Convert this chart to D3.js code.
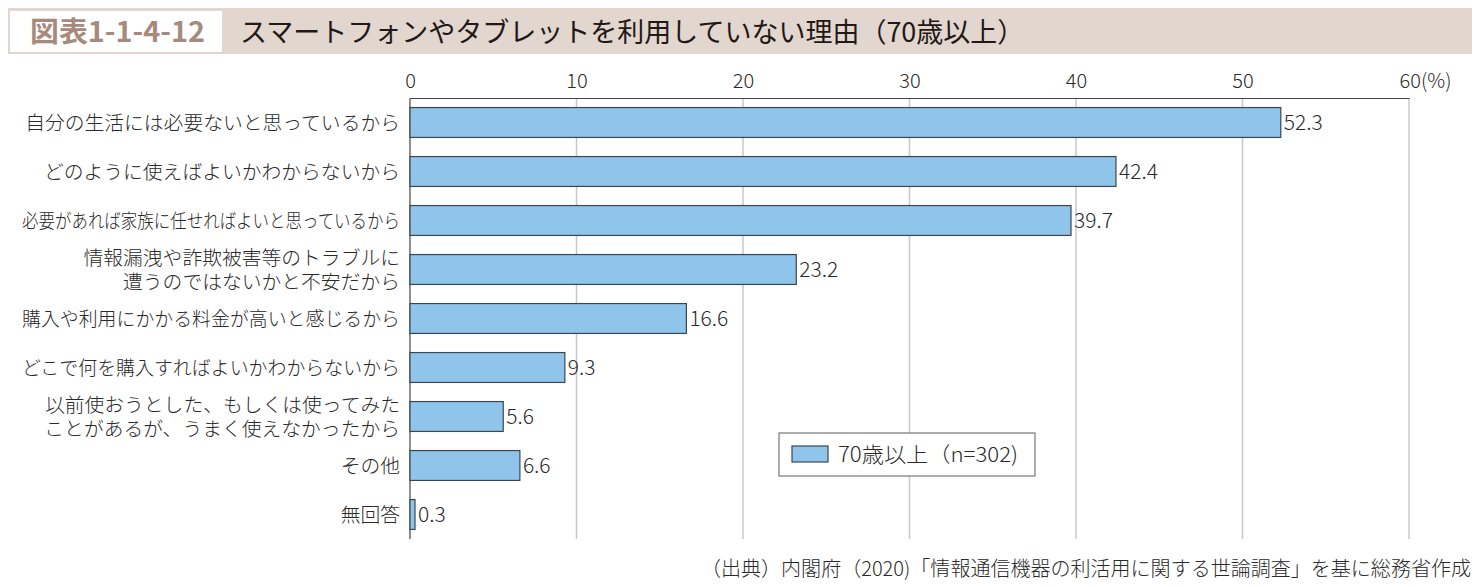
<!DOCTYPE html>
<html><head><meta charset="utf-8">
<script src="https://cdn.jsdelivr.net/npm/d3@7"></script>
<style>
body{margin:0;background:#fff;}
svg{display:block;font-family:"Noto Sans CJK JP","Noto Sans",sans-serif;}
</style></head><body>
<svg id="c" width="1482" height="587"></svg>
<script>
const categories = [
  ["自分の生活には必要ないと思っているから"],
  ["どのように使えばよいかわからないから"],
  ["必要があれば家族に任せればよいと思っているから"],
  ["情報漏洩や詐欺被害等のトラブルに","遭うのではないかと不安だから"],
  ["購入や利用にかかる料金が高いと感じるから"],
  ["どこで何を購入すればよいかわからないから"],
  ["以前使おうとした、もしくは使ってみた","ことがあるが、うまく使えなかったから"],
  ["その他"],
  ["無回答"]
];
const values = [52.3, 42.4, 39.7, 23.2, 16.6, 9.3, 5.6, 6.6, 0.3];
const tickValues = [0, 10, 20, 30, 40, 50, 60];
const seriesName = "70歳以上（n=302)";
const titleNo = "図表1-1-4-12";
const titleText = "スマートフォンやタブレットを利用していない理由（70歳以上）";
const sourceText = "（出典）内閣府（2020)「情報通信機器の利活用に関する世論調査」を基に総務省作成";

const svg = d3.select("#c");
const pLeft = 410, pRight = 1409, pTop = 98, pBottom = 539;
const x = d3.scaleLinear().domain([0, 60]).range([pLeft, pRight]);
const y = d3.scaleBand().domain(d3.range(categories.length)).range([pTop, pBottom]).paddingInner(0.39).paddingOuter(0.195);
const txt = "#2a2a2a";

function fit(sel, maxW, force) {
  sel.each(function() {
    const w = this.getComputedTextLength();
    if (w > maxW || force) d3.select(this).attr("textLength", maxW).attr("lengthAdjust", "spacingAndGlyphs");
  });
}

// title band
svg.append("rect").attr("x", 8).attr("y", 8).attr("width", 1464).attr("height", 46).attr("fill", "#e1d7ce");
svg.append("rect").attr("x", 10).attr("y", 11).attr("width", 212).attr("height", 41).attr("fill", "#fff");
const tn = svg.append("text").attr("x", 30).attr("y", 42)
  .attr("font-size", 28).attr("font-weight", 700).attr("fill", "#a68a7c").text(titleNo);
fit(tn, 175, true);
svg.append("text").attr("x", 240).attr("y", 42)
  .attr("font-size", 27).attr("font-weight", 400).attr("fill", "#231815").text(titleText);

// gridlines
svg.append("g").selectAll("line").data(tickValues.slice(1)).join("line")
  .attr("x1", d => x(d)).attr("x2", d => x(d)).attr("y1", pTop).attr("y2", pBottom)
  .attr("stroke", "#c8c8c8").attr("stroke-width", 1.5);

// top axis
const ax = d3.axisTop(x).tickValues(tickValues).tickSize(0).tickPadding(10)
  .tickFormat(d => d === 60 ? "60(%)" : d);
const g = svg.append("g").attr("transform", `translate(0,${pTop})`).call(ax);
g.select(".domain").attr("stroke", "#444").attr("stroke-width", 1.2);
g.selectAll("text").attr("font-size", 20).attr("font-weight", 300).attr("fill", txt)
  .attr("font-family", '"Noto Sans CJK JP",sans-serif');
g.selectAll(".tick").filter(d => d === 60).select("text").attr("dx", 16);

// left axis line
svg.append("line").attr("x1", pLeft).attr("x2", pLeft).attr("y1", pTop).attr("y2", pBottom)
  .attr("stroke", "#444").attr("stroke-width", 1.2);

// bars
svg.append("g").selectAll("rect").data(values).join("rect")
  .attr("x", x(0)).attr("y", (d, i) => y(i))
  .attr("width", d => x(d) - x(0)).attr("height", y.bandwidth())
  .attr("fill", "#8fc5eb").attr("stroke", "#3c4650").attr("stroke-width", 1.2);

// value labels
svg.append("g").selectAll("text").data(values).join("text")
  .attr("x", d => x(d) + 3).attr("y", (d, i) => y(i) + y.bandwidth() / 2 + 7)
  .attr("font-size", 21).attr("font-weight", 300).attr("fill", txt)
  .text(d => d.toFixed(1));

// category labels
const cl = svg.append("g").selectAll("text").data(categories).join("text")
  .attr("text-anchor", "end").attr("font-size", 19.8).attr("font-weight", 300).attr("fill", txt);
cl.each(function(lines, i) {
  const cy = y(i) + y.bandwidth() / 2;
  const lh = 24;
  const start = cy - (lines.length - 1) * lh / 2 + 7;
  d3.select(this).selectAll("tspan").data(lines).join("tspan")
    .attr("x", 400).attr("y", (d, j) => start + j * lh).text(d => d);
});
fit(cl.filter(d => d.length === 1), 378);

// legend
const lg = svg.append("g");
lg.append("rect").attr("x", 779).attr("y", 433).attr("width", 256).attr("height", 43)
  .attr("fill", "#fff").attr("stroke", "#777").attr("stroke-width", 1.2);
lg.append("rect").attr("x", 792).attr("y", 446).attr("width", 36).attr("height", 16)
  .attr("fill", "#8fc5eb").attr("stroke", "#3c4650").attr("stroke-width", 1.2);
const lt = lg.append("text").attr("x", 838).attr("y", 462).attr("font-size", 21).attr("font-weight", 300)
  .attr("fill", txt).text(seriesName);
fit(lt, 180, true);

// source
const src = svg.append("text").attr("x", 1471).attr("y", 576).attr("text-anchor", "end")
  .attr("font-size", 20).attr("font-weight", 300).attr("fill", txt).text(sourceText);
fit(src, 770, true);
</script>
</body></html>
